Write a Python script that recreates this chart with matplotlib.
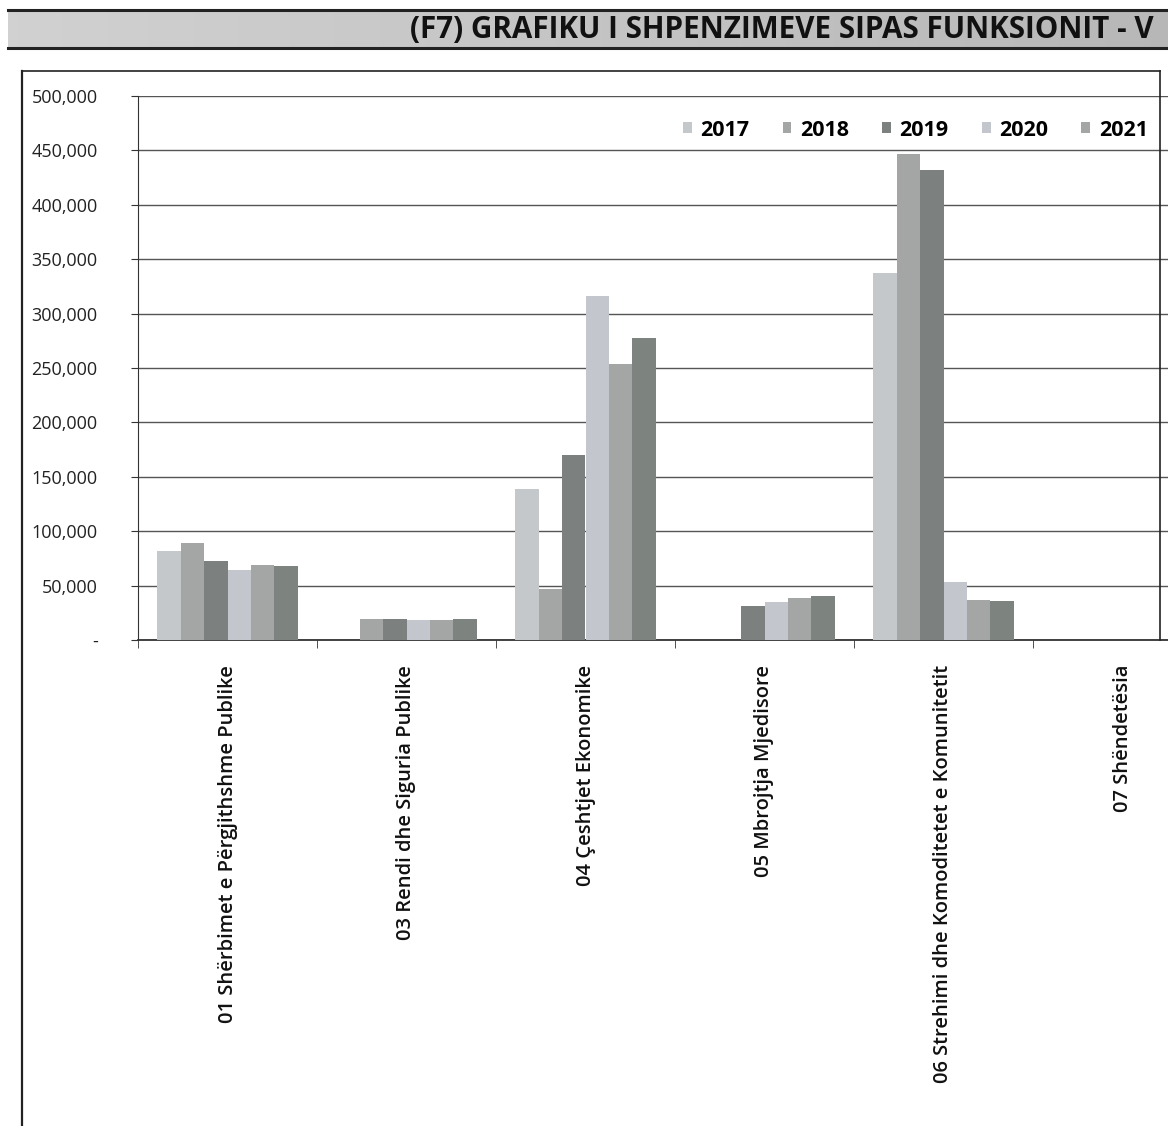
import numpy as np
import matplotlib
matplotlib.use('Agg')
from matplotlib import pyplot as plt
from matplotlib.patches import Patch
from matplotlib.lines import Line2D
from matplotlib.ticker import FuncFormatter

# Categories (functions) and yearly spending series
categories = ['01 Shërbimet e Përgjithshme Publike', '03 Rendi dhe Siguria Publike',
              '04 Çeshtjet Ekonomike', '05 Mbrojtja Mjedisore',
              '06 Strehimi dhe Komoditetet e Komunitetit', '07 Shëndetësia']
years = ['2017', '2018', '2019', '2020', '2021', '2022']

v2017 = [82000, 0, 139000, 0, 337000, 0]
v2018 = [89000, 19000, 47000, 0, 447000, 0]
v2019 = [73000, 19000, 170000, 31000, 432000, 0]
v2020 = [64000, 18000, 316000, 35000, 53000, 0]
v2021 = [69000, 18000, 254000, 39000, 37000, 0]
v2022 = [68000, 19000, 278000, 40000, 36000, 0]
series = [v2017, v2018, v2019, v2020, v2021, v2022]

colors = ['#c5c8ca', '#a4a6a5', '#7c807e', '#c4c6cd', '#a3a6a4', '#7d837f']

plt.rcParams['font.family'] = ['Open Sans', 'DejaVu Sans']

W, H = 1168, 1126
fig = plt.figure(figsize=(W / 100, H / 100), dpi=100)
fig.patch.set_facecolor('white')

# Title band with a grey gradient
band = fig.add_axes([8 / W, 1 - 48 / H, 1 - 8 / W, 38 / H])
grad = np.linspace(0.82, 0.72, 256).reshape(1, -1)
band.imshow(np.dstack([grad, grad, grad]), aspect='auto', extent=[0, 1, 0, 1])
band.set_xlim(0, 1)
band.set_ylim(0, 1)
band.set_xticks([])
band.set_yticks([])
for s in ['left', 'right']:
    band.spines[s].set_visible(False)
for s in ['top', 'bottom']:
    band.spines[s].set_linewidth(2.2)
    band.spines[s].set_color('#222222')
fig.text(410 / W, 1 - 30 / H, '(F7) GRAFIKU I SHPENZIMEVE SIPAS FUNKSIONIT - V',
         fontsize=21.3, fontweight='bold', color='#111111', va='center', ha='left')

# Chart frame (left, top and right edges)
fig.add_artist(Line2D([22 / W, 22 / W], [0, 1 - 71 / H], transform=fig.transFigure,
                      color='#222222', lw=1.6))
fig.add_artist(Line2D([22 / W, 1160 / W], [1 - 71 / H, 1 - 71 / H], transform=fig.transFigure,
                      color='#222222', lw=1.2))
fig.add_artist(Line2D([1160 / W, 1160 / W], [1 - 640 / H, 1 - 71 / H], transform=fig.transFigure,
                      color='#222222', lw=1.2))

# Main plot: extends beyond the right edge like the cropped scan
ax_left, ax_right = 138, 138 + 6 * 179
ax_top, ax_bottom = 96, 640
ax = fig.add_axes([ax_left / W, 1 - ax_bottom / H, (ax_right - ax_left) / W, (ax_bottom - ax_top) / H])
ax.set_facecolor('none')

x = np.arange(len(categories))
bw = 0.131
for i, (vals, c, yr) in enumerate(zip(series, colors, years)):
    ax.bar(x + (i - 2.5) * bw, vals, width=bw, color=c, edgecolor='none', label=yr, zorder=3)

ax.set_xlim(-0.5, len(categories) - 0.5)
ax.set_ylim(0, 500000)
ax.set_yticks(np.arange(0, 500001, 50000))
ax.yaxis.set_major_formatter(FuncFormatter(lambda v, p: '-' if v == 0 else f'{int(v):,}'))
ax.grid(axis='y', color='#555555', lw=1.0, zorder=0)
ax.tick_params(axis='y', length=5, pad=24, labelsize=13, color='#333333', labelcolor='#222222')

ax.set_xticks(x)
ax.set_xticklabels(categories, rotation=90, fontsize=14.5, fontweight='semibold', color='#111111')
ax.tick_params(axis='x', which='major', length=0, pad=18)
ax.set_xticks(np.arange(-0.5, len(categories), 1), minor=True)
ax.tick_params(axis='x', which='minor', length=6, color='#333333')

for s in ['top', 'right']:
    ax.spines[s].set_visible(False)
ax.spines['left'].set_color('#333333')
ax.spines['bottom'].set_color('#333333')
ax.spines['bottom'].set_linewidth(1.3)

# Legend: only the entries visible within the cropped scan
handles = [Patch(facecolor=c, edgecolor='none') for c in colors[:5]]
fig.legend(handles, years[:5], loc='center left', bbox_to_anchor=(683 / W, 1 - 130 / H),
           ncol=5, frameon=False, prop={'size': 15.5, 'weight': 'bold'},
           borderpad=0, borderaxespad=0,
           handlelength=0.4, handleheight=0.4, handletextpad=0.4, columnspacing=1.55)

fig.savefig('out.png', dpi=100)
